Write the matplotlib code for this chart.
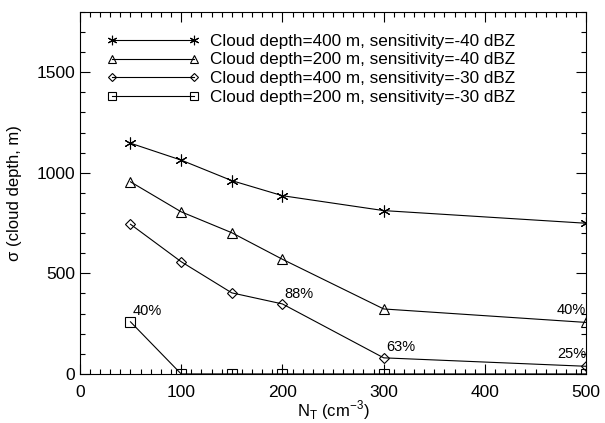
import numpy as np
import matplotlib
matplotlib.use('Agg')
from matplotlib import pyplot as plt
from matplotlib.ticker import MultipleLocator

plt.rcParams['font.family'] = ['Liberation Sans', 'DejaVu Sans']
plt.rcParams['mathtext.fontset'] = 'custom'
plt.rcParams['mathtext.rm'] = 'Liberation Sans'

nt = [50, 100, 150, 200, 300, 500]
d400_40 = [1147, 1063, 961, 886, 812, 749]
d200_40 = [955, 806, 702, 570, 323, 256]
d400_30 = [744, 558, 403, 348, 80, 38]
d200_30 = [259, 0, 0, 0, 0, 0]

labels = ['Cloud depth=400 m, sensitivity=-40 dBZ',
          'Cloud depth=200 m, sensitivity=-40 dBZ',
          'Cloud depth=400 m, sensitivity=-30 dBZ',
          'Cloud depth=200 m, sensitivity=-30 dBZ']

# percentage notes: (text, x, y, ha)
notes = [('40%', 52, 280, 'left'), ('88%', 202, 362, 'left'),
         ('63%', 303, 100, 'left'), ('40%', 500, 285, 'right'),
         ('25%', 500, 62, 'right')]

fig = plt.figure(figsize=(6.05, 4.23), dpi=100)
ax = fig.add_axes([0.132, 0.116, 0.837, 0.856])

kw = dict(color='black', lw=0.8, mfc='none', mec='black', mew=0.8, clip_on=True)
ax.plot(nt, d400_40, marker=(6, 2, 0), ms=8.5, label=labels[0], **kw)
ax.plot(nt, d200_40, marker='^', ms=7, label=labels[1], **kw)
ax.plot(nt, d400_30, marker='D', ms=5, label=labels[2], **kw)
ax.plot(nt, d200_30, marker='s', ms=7.5, label=labels[3], **kw)

for t, x, y, ha in notes:
    ax.text(x, y, t, fontsize=10.5, ha=ha, va='bottom')

ax.set_xlim(0, 500)
ax.set_ylim(0, 1800)
ax.xaxis.set_major_locator(MultipleLocator(100))
ax.xaxis.set_minor_locator(MultipleLocator(10))
ax.yaxis.set_major_locator(MultipleLocator(500))
ax.yaxis.set_minor_locator(MultipleLocator(100))
ax.tick_params(which='both', direction='in', top=True, right=True, labelsize=12.5)
ax.tick_params(which='major', length=7, width=0.8)
ax.tick_params(which='minor', length=3.5, width=0.8)
ax.tick_params(axis='x', which='major', pad=8)
for s in ax.spines.values():
    s.set_linewidth(0.8)

ax.set_xlabel(r'N$_\mathregular{T}$ (cm$^\mathregular{-3}$)', fontsize=12, labelpad=-1)
ax.set_ylabel('σ (cloud depth, m)', fontsize=12, labelpad=10)

ax.legend(loc='upper left', frameon=False, numpoints=2, fontsize=12.3,
          handlelength=5.4, handletextpad=0.65, labelspacing=0.22,
          borderaxespad=0.5, markerscale=0.8, bbox_to_anchor=(0.022, 0.982))

fig.savefig('out.png', dpi=100)
